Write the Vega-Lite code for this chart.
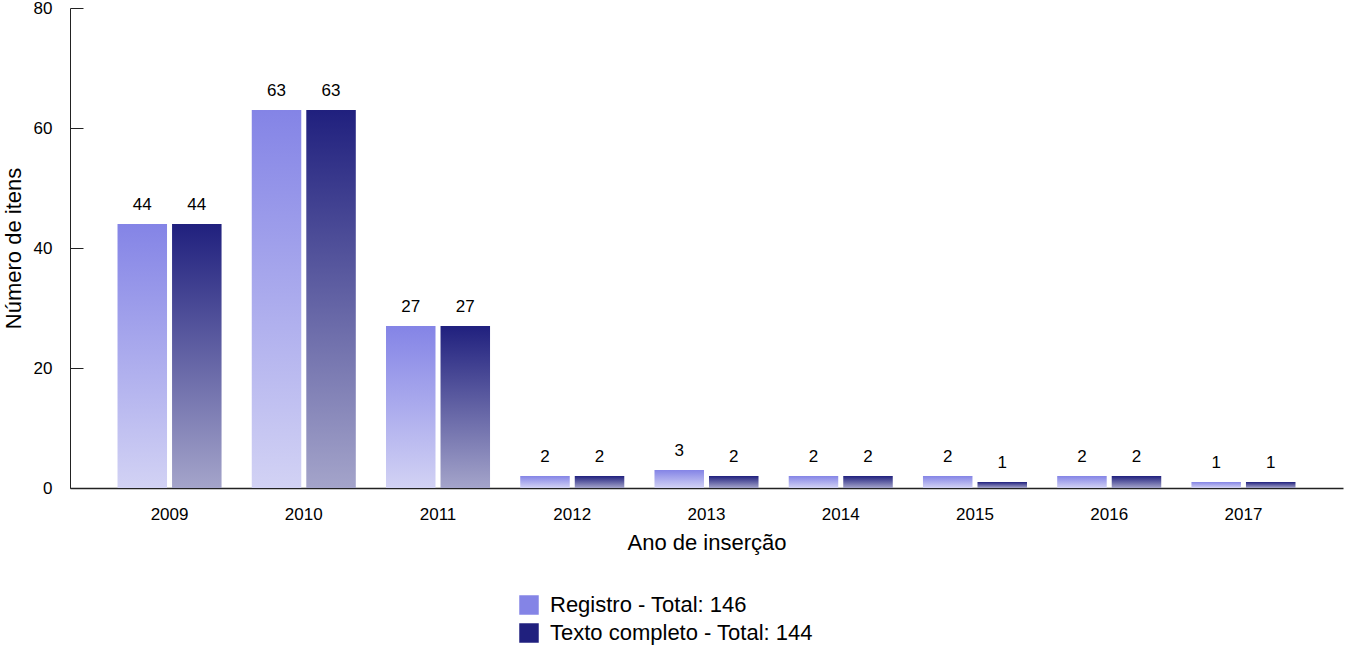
{
  "$schema": "https://vega.github.io/schema/vega-lite/v6.json",
  "autosize": {"type": "none"},
  "padding": {"left": 70, "top": 8, "right": 2, "bottom": 160},
  "width": 1273,
  "height": 480,
  "background": "white",
  "data": {
    "values": [
      {"Ano": "2009", "Tipo": "Registro", "Itens": 44},
      {"Ano": "2009", "Tipo": "Texto completo", "Itens": 44},
      {"Ano": "2010", "Tipo": "Registro", "Itens": 63},
      {"Ano": "2010", "Tipo": "Texto completo", "Itens": 63},
      {"Ano": "2011", "Tipo": "Registro", "Itens": 27},
      {"Ano": "2011", "Tipo": "Texto completo", "Itens": 27},
      {"Ano": "2012", "Tipo": "Registro", "Itens": 2},
      {"Ano": "2012", "Tipo": "Texto completo", "Itens": 2},
      {"Ano": "2013", "Tipo": "Registro", "Itens": 3},
      {"Ano": "2013", "Tipo": "Texto completo", "Itens": 2},
      {"Ano": "2014", "Tipo": "Registro", "Itens": 2},
      {"Ano": "2014", "Tipo": "Texto completo", "Itens": 2},
      {"Ano": "2015", "Tipo": "Registro", "Itens": 2},
      {"Ano": "2015", "Tipo": "Texto completo", "Itens": 1},
      {"Ano": "2016", "Tipo": "Registro", "Itens": 2},
      {"Ano": "2016", "Tipo": "Texto completo", "Itens": 2},
      {"Ano": "2017", "Tipo": "Registro", "Itens": 1},
      {"Ano": "2017", "Tipo": "Texto completo", "Itens": 1}
    ]
  },
  "encoding": {
    "x": {
      "field": "Ano",
      "type": "nominal",
      "title": "Ano de inserção",
      "scale": {"paddingInner": 0.225, "paddingOuter": 0.354},
      "axis": {
        "labelAngle": 0,
        "ticks": false,
        "labelPadding": 18,
        "titlePadding": 10,
        "domainWidth": 1.5
      }
    },
    "xOffset": {
      "field": "Tipo",
      "type": "nominal",
      "scale": {"paddingInner": 0.092, "paddingOuter": 0}
    },
    "y": {
      "field": "Itens",
      "type": "quantitative",
      "title": "Número de itens",
      "scale": {"domain": [0, 80], "nice": false},
      "axis": {
        "values": [0, 20, 40, 60, 80],
        "grid": false,
        "tickSize": -13,
        "labelPadding": 31,
        "titlePadding": 8
      }
    }
  },
  "layer": [
    {
      "transform": [{"filter": "datum.Tipo == 'Registro'"}],
      "mark": {
        "type": "bar",
        "fill": {
          "gradient": "linear",
          "x1": 0, "y1": 0, "x2": 0, "y2": 1,
          "stops": [
            {"offset": 0, "color": "#8484E6"},
            {"offset": 1, "color": "#D2D2F4"}
          ]
        }
      }
    },
    {
      "transform": [{"filter": "datum.Tipo == 'Texto completo'"}],
      "mark": {
        "type": "bar",
        "fill": {
          "gradient": "linear",
          "x1": 0, "y1": 0, "x2": 0, "y2": 1,
          "stops": [
            {"offset": 0, "color": "#20207E"},
            {"offset": 1, "color": "#A4A4CA"}
          ]
        }
      }
    },
    {
      "mark": {"type": "text", "baseline": "bottom", "dy": -10, "fontSize": 17, "color": "black"},
      "encoding": {"text": {"field": "Itens", "type": "quantitative"}}
    },
    {
      "transform": [{"filter": "false"}],
      "mark": {"type": "bar"},
      "encoding": {
        "color": {
          "field": "Tipo",
          "type": "nominal",
          "title": null,
          "scale": {
            "domain": ["Registro", "Texto completo"],
            "range": ["#8484E6", "#20207E"]
          },
          "legend": {
            "orient": "none",
            "legendX": 448,
            "legendY": 586,
            "direction": "vertical",
            "symbolType": "square",
            "symbolSize": 380,
            "symbolStrokeWidth": 0,
            "labelFontSize": 22,
            "labelColor": "black",
            "labelLimit": 0,
            "labelOffset": 10,
            "rowPadding": 6,
            "padding": 0,
            "labelExpr": "datum.label == 'Registro' ? 'Registro - Total: 146' : 'Texto completo - Total: 144'"
          }
        }
      }
    }
  ],
  "config": {
    "font": "Liberation Sans",
    "view": {"stroke": null},
    "axis": {
      "domainColor": "#222222",
      "tickColor": "#222222",
      "labelColor": "black",
      "titleColor": "black",
      "labelFontSize": 17,
      "titleFontSize": 22,
      "titleFontWeight": "normal"
    }
  }
}
